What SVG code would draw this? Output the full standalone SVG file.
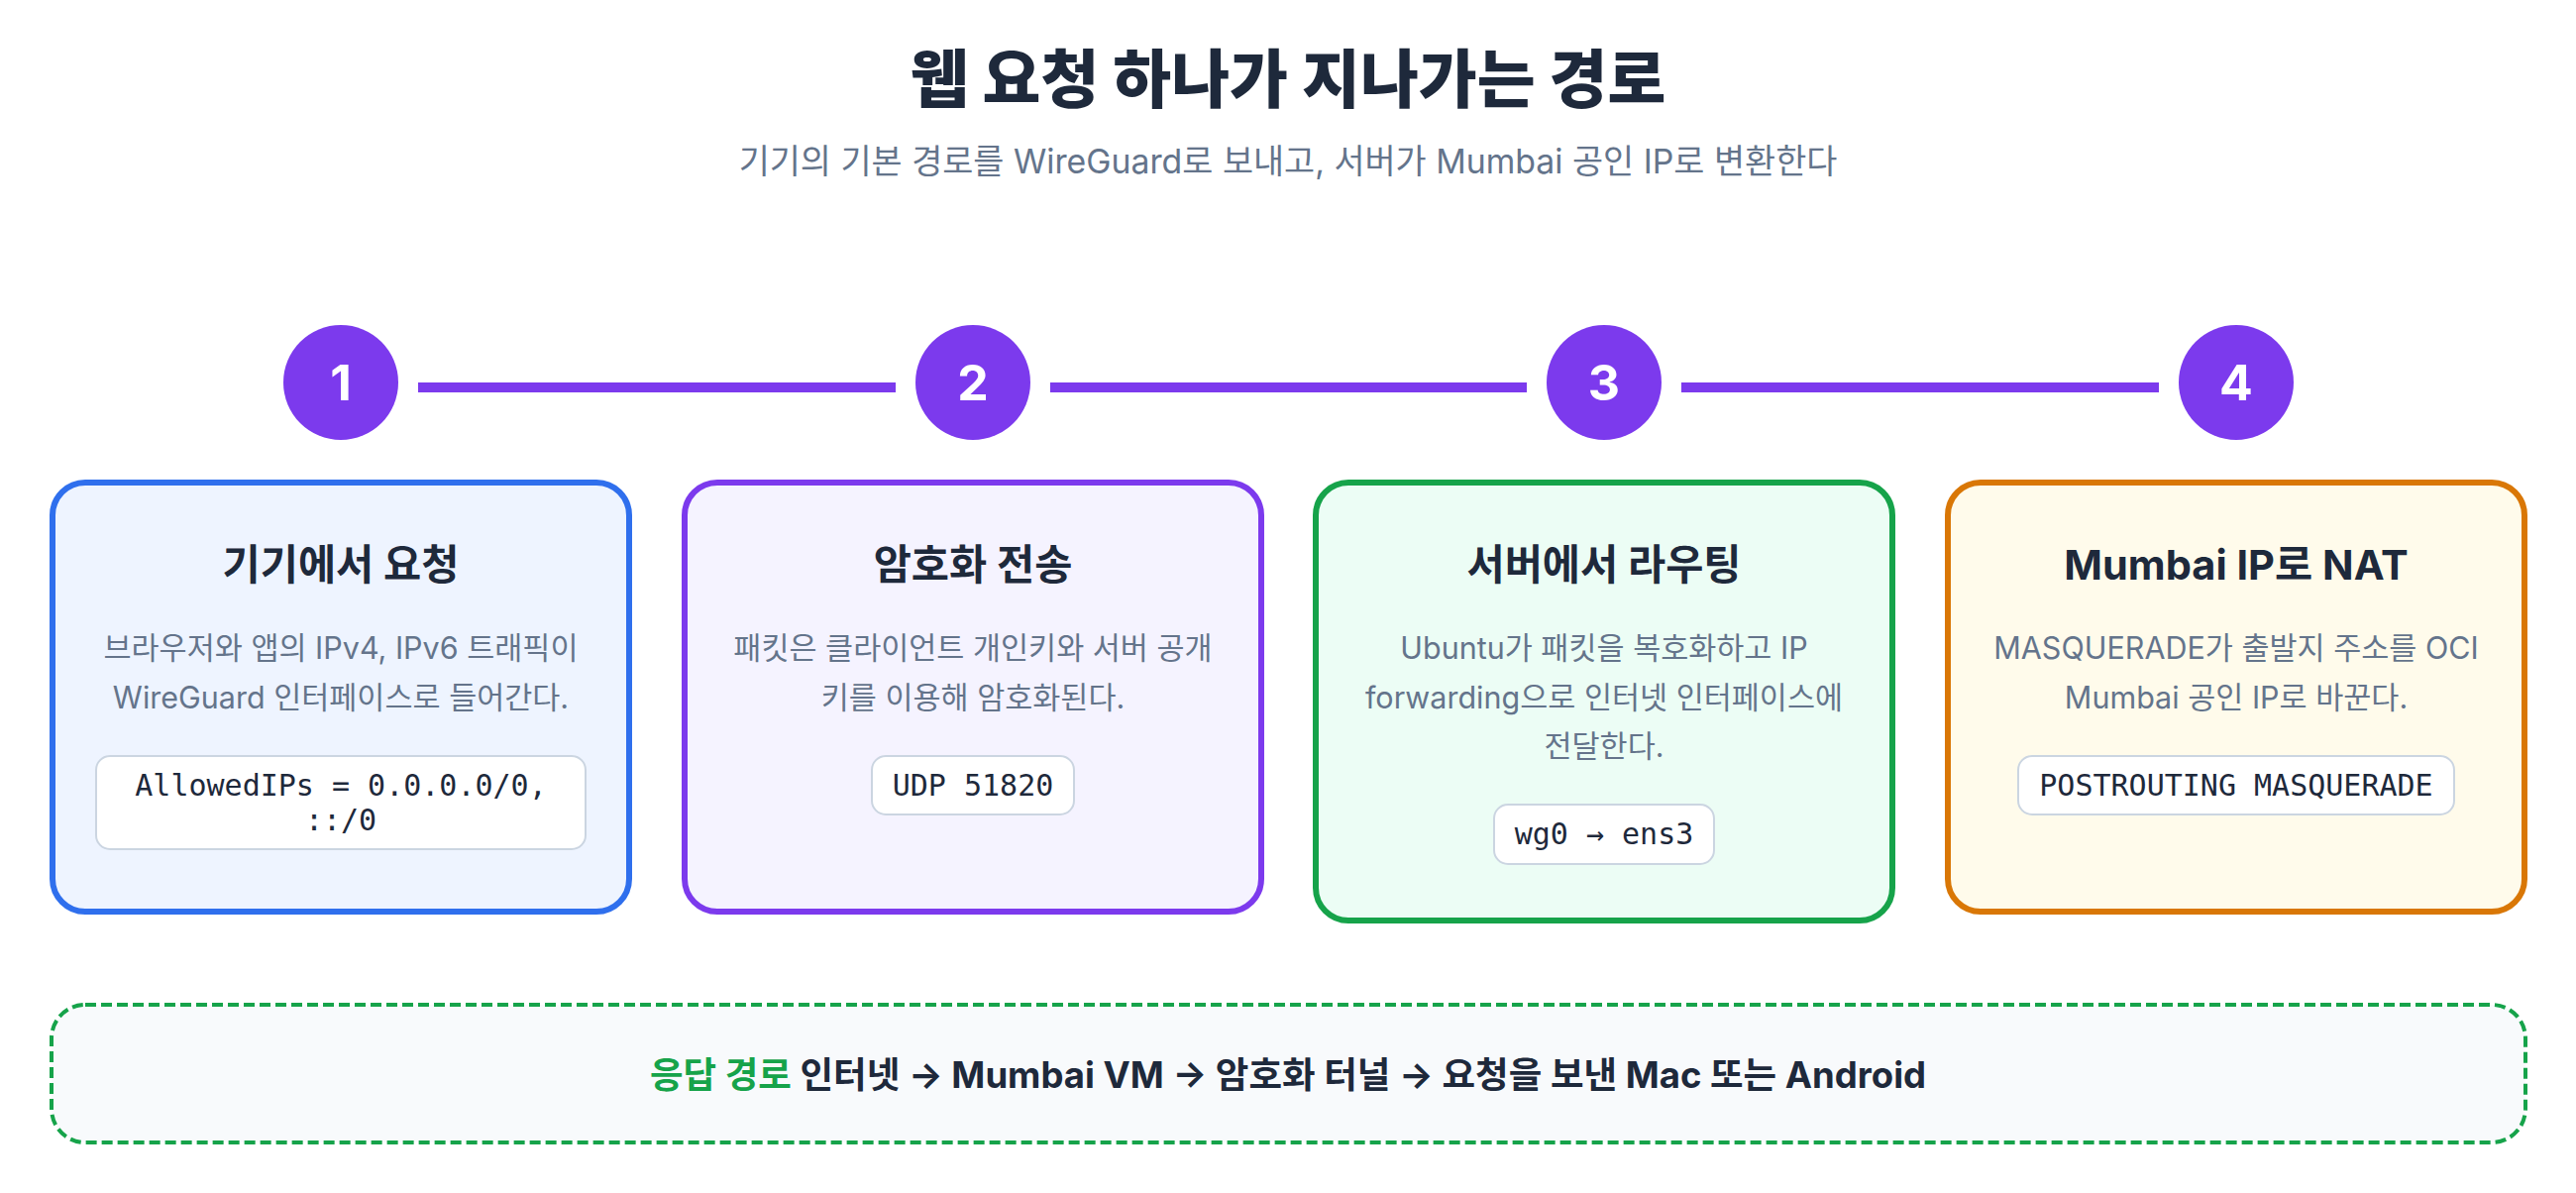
<svg xmlns="http://www.w3.org/2000/svg" width="2600" height="1204" viewBox="0 0 2600 1204">
<style>
text{font-family:Inter,"Noto Sans CJK KR",sans-serif}
.title{font-size:64px;font-weight:800;fill:#1e293b;text-anchor:middle}
.sub{font-size:33.8px;fill:#64748b;text-anchor:middle}
.num{font-size:50px;font-weight:700;fill:#fff;text-anchor:middle}
.ct{font-size:41.5px;font-weight:700;fill:#1e293b;text-anchor:middle}
.body{font-size:30.5px;fill:#64748b;text-anchor:middle}
.code{font-family:"DejaVu Sans Mono",monospace;font-size:30px;fill:#1e293b;text-anchor:middle}
.cbox{fill:#fff;stroke:#cbd5e1;stroke-width:2}
.card{stroke-width:6}
.step{fill:#7c3aed}
.bottom{font-size:36.5px;font-weight:700;fill:#1e293b;text-anchor:middle}
</style>
<rect width="2600" height="1204" fill="#fff"/>
<text class="title" x="1300" y="103">웹 요청 하나가 지나가는 경로</text>
<text class="sub" x="1300" y="175">기기의 기본 경로를 WireGuard로 보내고, 서버가 Mumbai 공인 IP로 변환한다</text>
<g id="connectors">
<rect x="422" y="386" width="482" height="10" fill="#7c3aed"/>
<rect x="1060" y="386" width="481" height="10" fill="#7c3aed"/>
<rect x="1697" y="386" width="482" height="10" fill="#7c3aed"/>
</g>
<g id="step1"><circle class="step" cx="344" cy="386" r="58"/><text class="num" x="344" y="404">1</text></g>
<g id="step2"><circle class="step" cx="982" cy="386" r="58"/><text class="num" x="982" y="404">2</text></g>
<g id="step3"><circle class="step" cx="1619" cy="386" r="58"/><text class="num" x="1619" y="404">3</text></g>
<g id="step4"><circle class="step" cx="2257" cy="386" r="58"/><text class="num" x="2257" y="404">4</text></g>
<g id="card1">
<rect class="card" x="53" y="487" width="582" height="433" rx="33" fill="#eef4ff" stroke="#2f6fed"/>
<text class="ct" x="344" y="585">기기에서 요청</text>
<text class="body" x="344" y="665">브라우저와 앱의 IPv4, IPv6 트래픽이</text>
<text class="body" x="344" y="715">WireGuard 인터페이스로 들어간다.</text>
<rect class="cbox" x="97" y="763" width="494" height="94" rx="14"/>
<text class="code" x="344" y="803">AllowedIPs = 0.0.0.0/0,</text>
<text class="code" x="344" y="838">::/0</text>
</g>
<g id="card2">
<rect class="card" x="691" y="487" width="582" height="433" rx="33" fill="#f5f3ff" stroke="#7c3aed"/>
<text class="ct" x="982" y="585">암호화 전송</text>
<text class="body" x="982" y="665">패킷은 클라이언트 개인키와 서버 공개</text>
<text class="body" x="982" y="715">키를 이용해 암호화된다.</text>
<rect class="cbox" x="880" y="763" width="204" height="59" rx="14"/>
<text class="code" x="982" y="803">UDP 51820</text>
</g>
<g id="card3">
<rect class="card" x="1328" y="487" width="582" height="442" rx="33" fill="#ecfdf5" stroke="#16a34a"/>
<text class="ct" x="1619" y="585">서버에서 라우팅</text>
<text class="body" x="1619" y="665">Ubuntu가 패킷을 복호화하고 IP</text>
<text class="body" x="1619" y="715">forwarding으로 인터넷 인터페이스에</text>
<text class="body" x="1619" y="764">전달한다.</text>
<rect class="cbox" x="1508" y="812" width="222" height="60" rx="14"/>
<text class="code" x="1619" y="852">wg0 → ens3</text>
</g>
<g id="card4">
<rect class="card" x="1966" y="487" width="582" height="433" rx="33" fill="#fffbeb" stroke="#d97706"/>
<text class="ct" x="2257" y="585">Mumbai IP로 NAT</text>
<text class="body" x="2257" y="665">MASQUERADE가 출발지 주소를 OCI</text>
<text class="body" x="2257" y="715">Mumbai 공인 IP로 바꾼다.</text>
<rect class="cbox" x="2037" y="763" width="440" height="59" rx="14"/>
<text class="code" x="2257" y="803">POSTROUTING MASQUERADE</text>
</g>
<g id="response">
<rect x="52" y="1014" width="2497" height="139" rx="34" fill="#f8fafc" stroke="#16a34a" stroke-width="4" stroke-dasharray="11 5"/>
<text class="bottom" x="1300" y="1098"><tspan fill="#16a34a">응답 경로</tspan> 인터넷 → Mumbai VM → 암호화 터널 → 요청을 보낸 Mac 또는 Android</text>
</g>
</svg>
